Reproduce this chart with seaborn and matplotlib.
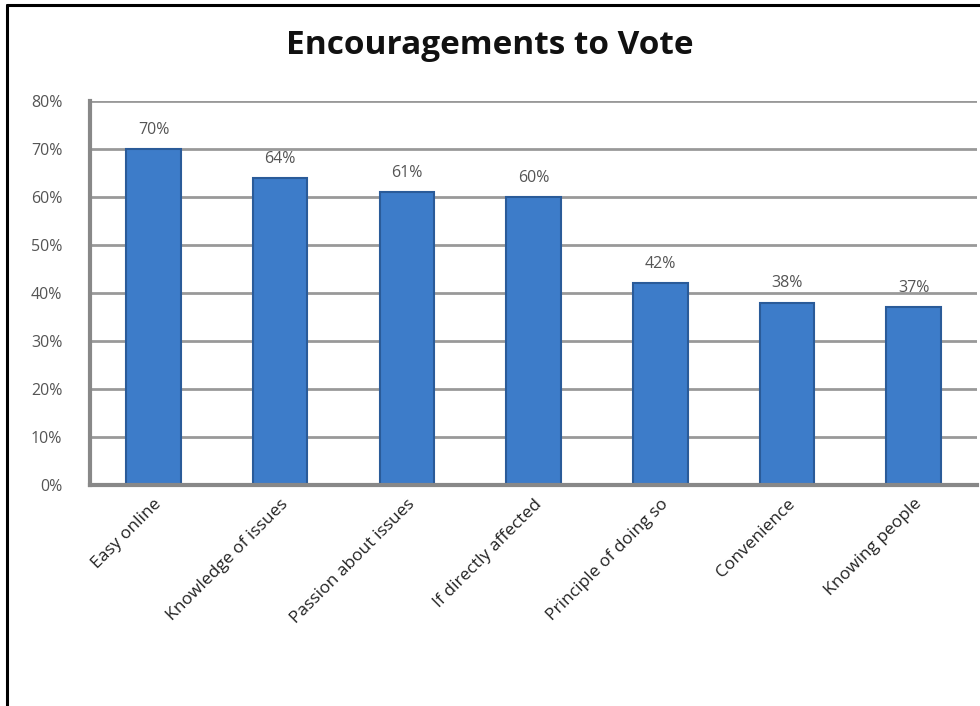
import seaborn as sns
import matplotlib.pyplot as plt
from matplotlib.lines import Line2D
import pandas as pd

sns.set_style('white')
plt.rcParams['font.family'] = ['Open Sans', 'DejaVu Sans']

categories = ['Easy online', 'Knowledge of issues', 'Passion about issues',
              'If directly affected', 'Principle of doing so', 'Convenience',
              'Knowing people']
values = [70, 64, 61, 60, 42, 38, 37]
labels = ['70%', '64%', '61%', '60%', '42%', '38%', '37%']
yticks = [0, 10, 20, 30, 40, 50, 60, 70, 80]

df = pd.DataFrame({'reason': categories, 'pct': values})

fig = plt.figure(figsize=(9.8, 7.06), dpi=100)
ax = fig.add_axes([0.092, 0.313, 0.905, 0.544])

sns.barplot(data=df, x='reason', y='pct', color='#3d7cc9', width=0.43,
            edgecolor='#2a5b99', linewidth=1.5, saturation=1, ax=ax, zorder=3)

for bar, lab in zip(ax.patches, labels):
    ax.annotate(lab, (bar.get_x() + bar.get_width() / 2, bar.get_height()),
                xytext=(0, 8), textcoords='offset points', ha='center',
                va='bottom', fontsize=11.5, color='#555555')

ax.set_ylim(0, 80)
ax.set_xlim(-0.5, len(categories) - 0.5)
ax.set_yticks(yticks)
ax.set_yticklabels([f'{t}%' for t in yticks], fontsize=11.5, color='#555555')
ax.tick_params(axis='y', length=0, pad=20)
ax.tick_params(axis='x', length=0, pad=8)
plt.setp(ax.get_xticklabels(), rotation=45, ha='right', rotation_mode='anchor',
         fontsize=12.5, color='#222222')
ax.set_xlabel('')
ax.set_ylabel('')

ax.yaxis.grid(True, color='#999999', linewidth=2, zorder=0)
for s in ['top', 'right']:
    ax.spines[s].set_visible(False)
for s in ['left', 'bottom']:
    ax.spines[s].set_color('#888888')
    ax.spines[s].set_linewidth(3)
    ax.spines[s].set_zorder(4)

fig.text(0.5, 0.935, 'Encouragements to Vote', ha='center', va='center',
         fontsize=24, fontweight='bold', color='#111111')

# outer frame (left and top edges only)
fig.add_artist(Line2D([0.0075, 0.0075], [0, 0.993], color='black', linewidth=2.2))
fig.add_artist(Line2D([0.0075, 1.0], [0.993, 0.993], color='black', linewidth=2.2))

fig.savefig('out.png', dpi=100)
